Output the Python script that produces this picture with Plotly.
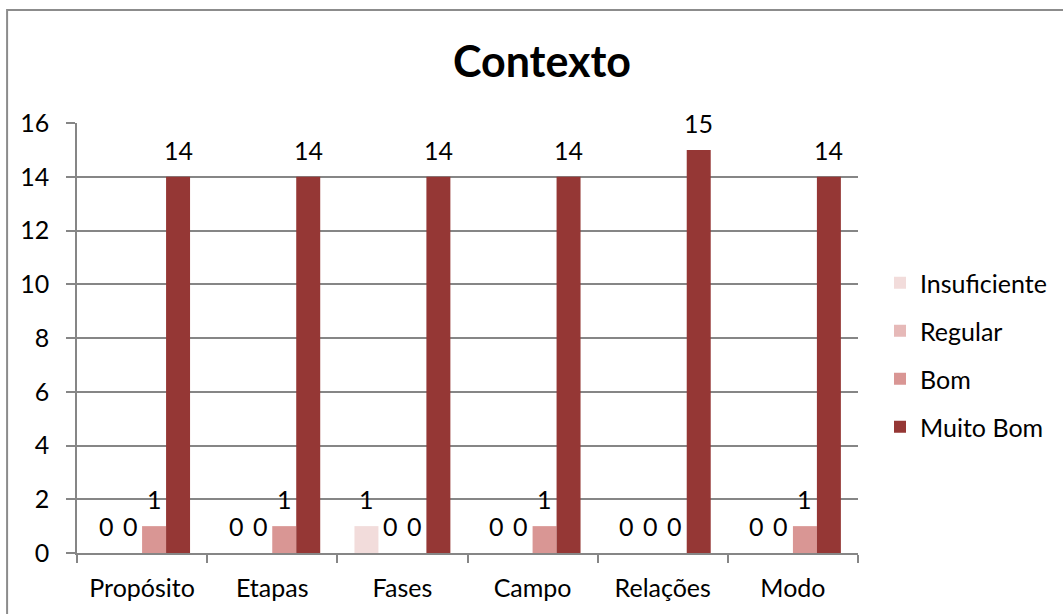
import plotly.graph_objects as go

categories = ["Propósito", "Etapas", "Fases", "Campo", "Relações", "Modo"]
series_names = ["Insuficiente", "Regular", "Bom", "Muito Bom"]
insuficiente = [0, 0, 1, 0, 0, 0]
regular = [0, 0, 0, 0, 0, 0]
bom = [1, 1, 0, 1, 0, 1]
muito_bom = [14, 14, 14, 14, 15, 14]
y_ticks = [0, 2, 4, 6, 8, 10, 12, 14, 16]

colors = ["#F2DCDB", "#E6B9B8", "#D99694", "#953735"]
series_values = [insuficiente, regular, bom, muito_bom]

W, H = 1063, 614
M_L, M_R, M_T, M_B = 77, 204, 123, 61
BARGAP = 0.263
FONT = "Lato"
FS = 25

plot_w = W - M_L - M_R
plot_h = H - M_T - M_B
bar_px = plot_w / len(categories) * (1 - BARGAP) / len(series_names)

fig = go.Figure()
for k, (name, vals, col) in enumerate(zip(series_names, series_values, colors)):
    fig.add_trace(go.Bar(
        x=categories, y=vals, name=name,
        marker=dict(color=col, line=dict(width=0)),
        legendgroup=name,
    ))

# value labels above each bar
annotations = []
for k, vals in enumerate(series_values):
    for cat, v in zip(categories, vals):
        annotations.append(dict(
            x=cat, y=v, xref="x", yref="y", text=str(v), showarrow=False,
            xshift=(k - (len(series_names) - 1) / 2) * bar_px, yshift=27,
            yanchor="middle", font=dict(family=FONT, size=FS, color="black"),
        ))

def px_x(p):
    return (p - M_L) / plot_w

def px_y(p):
    return (H - M_B - p) / plot_h

fig.update_layout(
    width=W, height=H,
    margin=dict(l=M_L, r=M_R, t=M_T, b=M_B),
    paper_bgcolor="white", plot_bgcolor="white",
    barmode="group", bargap=BARGAP, bargroupgap=0,
    font=dict(family=FONT, size=FS, color="black"),
    title=dict(text="<b>Contexto</b>", x=542 / W, xref="container", xanchor="center",
               y=1 - 62 / H, yanchor="middle",
               font=dict(family=FONT, size=43, color="black")),
    xaxis=dict(
        type="category", tickson="boundaries", ticks="outside", ticklen=8,
        tickcolor="#868686", tickwidth=1.5,
        showline=True, linecolor="#868686", linewidth=1.5,
        showgrid=False, tickfont=dict(size=FS), ticklabelstandoff=12,
    ),
    yaxis=dict(
        range=[0, 16], tickvals=y_ticks, ticks="outside", ticklen=9,
        tickcolor="#868686", tickwidth=1.5,
        showline=True, linecolor="#868686", linewidth=1.5,
        showgrid=True, gridcolor="#868686", gridwidth=1.5,
        zeroline=False, tickfont=dict(size=FS), ticklabelstandoff=12,
    ),
    legend=dict(
        x=px_x(880), xanchor="left", y=px_y(355), yanchor="middle",
        font=dict(family=FONT, size=FS, color="black"),
        tracegroupgap=12.5, traceorder="grouped", bgcolor="rgba(0,0,0,0)",
    ),
    annotations=annotations,
    shapes=[dict(
        type="rect", xref="paper", yref="paper",
        x0=px_x(7), x1=px_x(W + 20), y0=px_y(H + 20), y1=px_y(10),
        line=dict(color="#8C8C8C", width=2), fillcolor="rgba(0,0,0,0)",
        layer="below",
    )],
)

fig.write_html("out.html")
